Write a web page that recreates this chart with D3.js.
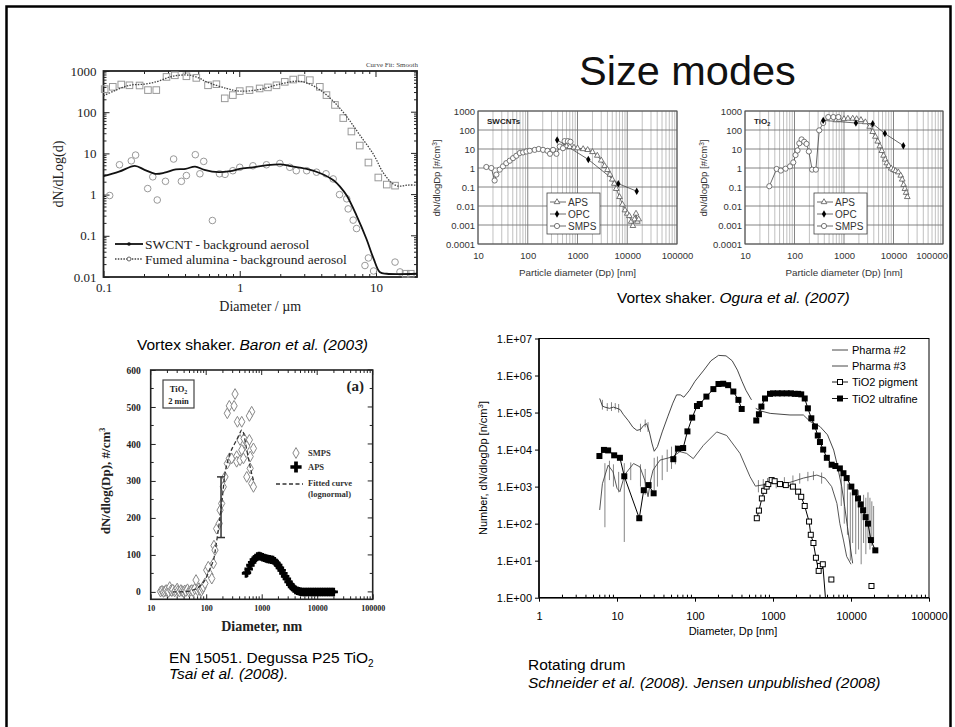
<!DOCTYPE html>
<html><head><meta charset="utf-8">
<script src="https://cdn.jsdelivr.net/npm/d3@7"></script>
<style>body{margin:0;background:#fff}svg{display:block}</style>
</head><body><svg id="c" width="955" height="727"></svg>
<script>
// ================= DATA =================
const slideTitle = "Size modes";

// Panel A : Baron et al. (2003)
const baronXTicks = [0.1, 1, 10];
const baronXLabels = ["0.1", "1", "10"];
const baronYTicks = [0.01, 0.1, 1, 10, 100, 1000];
const baronYLabels = ["0.01", "0.1", "1", "10", "100", "1000"];
const baronSeries = ["SWCNT - background aerosol", "Fumed alumina - background aerosol"];
const baronSwcntCurve = [[0.1,2.8],[0.13,3.6],[0.17,5.0],[0.2,4.0],[0.24,3.2],[0.28,3.4],[0.34,4.1],[0.4,4.2],[0.47,4.8],[0.55,4.0],[0.7,3.5],[0.85,3.7],[1.0,4.2],[1.25,4.6],[1.6,5.2],[2.0,5.4],[2.3,5.0],[3.1,4.2],[3.9,3.3],[4.9,2.2],[5.5,1.5],[6.1,0.95],[7.2,0.31],[8.5,0.085],[9.6,0.028],[10.7,0.013],[12,0.012],[20,0.012]];
const baronAluminaCurve = [[0.1,250],[0.12,330],[0.155,450],[0.2,480],[0.25,560],[0.3,700],[0.35,780],[0.43,790],[0.5,680],[0.57,545],[0.8,377],[1.0,325],[1.4,356],[1.97,480],[2.6,565],[3.1,515],[3.9,344],[4.9,180],[6.1,78],[7.6,28],[9.6,9.4],[11.3,3.4],[13.4,1.8],[15,1.6],[17,1.7],[20,1.7]];
const baronSwcntPts = [[0.111,0.95],[0.131,5.3],[0.16,6.6],[0.172,9.1],[0.211,1.4],[0.23,2.7],[0.248,0.74],[0.285,2.1],[0.327,7.3],[0.373,2.1],[0.406,2.9],[0.472,9.3],[0.51,3.2],[0.544,6.4],[0.63,0.235],[0.71,3.2],[0.78,3.1],[0.89,3.8],[1.0,4.6],[1.25,5.0],[1.57,5.3],[1.97,5.7],[2.33,4.6],[2.6,3.8],[3.1,3.8],[3.66,3.5],[4.3,3.2],[4.85,2.4],[5.4,1.0],[6.1,0.79],[6.25,0.45],[6.8,0.24],[7.2,0.15],[8.8,0.029],[8.3,0.019],[9.6,0.014],[13.8,0.023],[15,0.0133]];
const baronAluminaPts = [[0.102,363],[0.117,413],[0.135,470],[0.155,450],[0.184,445],[0.212,344],[0.244,344],[0.29,718],[0.334,787],[0.406,745],[0.48,680],[0.585,450],[0.674,478],[0.776,217],[0.89,260],[1.0,325],[1.18,344],[1.4,377],[1.61,400],[1.86,450],[2.14,545],[2.47,620],[2.84,655],[3.27,600],[3.87,413],[4.33,260],[5.0,150],[5.75,72],[6.6,34],[7.6,15.5],[8.8,6.0],[10.4,2.6],[12,1.75],[13.8,1.65],[16.5,0.012],[18,0.012]];

// Panels B/C : Ogura et al. (2007)
const oguraXTicks = [10, 100, 1000, 10000, 100000];
const oguraXLabels = ["10", "100", "1000", "10000", "100000"];
const oguraYTicks = [0.0001, 0.001, 0.01, 0.1, 1, 10, 100, 1000];
const oguraYLabels = ["0.0001", "0.001", "0.01", "0.1", "1", "10", "100", "1000"];
const oguraSeries = ["APS", "OPC", "SMPS"];
const ogSwSmps = [[14.7,1.13],[18.5,1.0],[21.6,0.22],[23.4,0.45],[27.3,0.82],[31.8,1.22],[37,1.8],[43.4,2.4],[50.6,3.3],[59,4.4],[69,6.1],[80.6,6.6],[94,7.4],[110,8.0],[138,9.0],[166,10],[203,9.0],[249,8.0],[280,5.6],[323,9],[377,5.6],[440,13.5],[510,11],[550,26],[640,26],[720,24]];
const ogSwOpc = [[390,30],[1650,2.8],[6600,0.15],[15500,0.06]];
const ogSwAps = [[600,14],[700,13],[850,12],[1000,11],[1300,10],[1600,9],[2000,7],[2500,4.5],[3000,2.5],[3500,1.3],[4000,0.8],[4500,0.45],[5000,0.25],[5500,0.15],[6000,0.08],[7000,0.03],[8000,0.012],[9000,0.006],[10000,0.004],[11000,0.003],[12000,0.0015],[13000,0.0009],[14000,0.002],[15000,0.004],[16000,0.0015],[17000,0.002]];
const ogTiSmps = [[31,0.11],[43.6,0.89],[53,0.73],[66,0.92],[81,1.22],[94.5,1.97],[105,4.8],[115,8.4],[125,20],[139,32],[157,24],[175,18.6],[195,7.4],[227,0.82],[270,0.82],[316,96],[380,234],[480,480],[610,480],[770,480]];
const ogTiOpc = [[380,320],[1740,234],[3800,215],[6700,65],[15800,15]];
const ogTiAps = [[700,330],[800,350],[1000,380],[1200,400],[1500,400],[1800,380],[2200,340],[2700,260],[3300,150],[3800,80],[4300,45],[4800,25],[5300,14],[5800,8],[6300,4.5],[6800,2.8],[7300,1.8],[8000,1.3],[9000,0.95],[10000,0.8],[11000,0.7],[12500,0.6],[14000,0.4],[15000,0.25],[16000,0.13],[17000,0.08],[18000,0.05],[19000,0.03]];

// Panel D : Tsai et al. (2008)
const tsaiXTicks = [10, 100, 1000, 10000, 100000];
const tsaiXLabels = ["10", "100", "1000", "10000", "100000"];
const tsaiYTicks = [0, 100, 200, 300, 400, 500, 600];
const tsaiYLabels = ["0", "100", "200", "300", "400", "500", "600"];
const tsaiSeries = ["SMPS", "APS", "Fitted curve", "(lognormal)"];
const tsaiSmps = [[15,1],[16,3],[17,0],[18,2],[19,5],[20,1],[21,0],[22,13],[23,4],[24,2],[25,6],[27,1],[28,4],[30,9],[31,3],[33,1],[35,5],[37,2],[39,0],[41,4],[43,2],[46,7],[49,1],[52,3],[55,5],[58,2],[62,8],[65.6,32],[70,4],[74,10],[77,5],[82,3],[86,9],[89,14],[95,23],
 [102,59],[109,68],[117,47],[126,36],[135,77],[138,125],[144,113],[154,171],[172,185],[178,221],[190,239],[203,284],[218,311],[240,347],[261,361],[288,361],[354,367],[354,352],[407,356],[437,384],[469,361],
 [240,483],[261,503],[318,503],[331,535],[365,460],[437,460],[407,411],[480,415],[660,487],[600,476],[600,411],[538,394],[710,388],[620,366],[538,311],[660,293],[710,284],[620,334]];
const tsaiAps = [[523,50],[542,52],[583,62],[626,72],[673,80],[723,87],[777,92],[835,96],[898,97],[965,96],[1037,94],[1114,92],[1197,90],[1286,89],[1382,88],[1486,87],[1596,86],[1715,83],[1843,78],[1981,72],[2129,65],[2288,58],[2458,50],[2642,42],[2839,35],[3051,27],[3278,20],[3523,14],[3786,9],[4068,5],[4371,3],[4698,1.5],[5048,0.5],[5425,0],[5829,0],[6264,0],[6732,0],[7234,0],[7774,0],[8354,0],[8977,0],[9647,0],[10370,0],[11140,0],[11970,0],[12870,0],[13830,0],[14860,0],[15960,0],[17150,0],[18430,0],[19810,0]];
const tsaiFit = [[25,0],[50,2],[67,9],[80,18],[95,32],[115,60],[135,86],[150,125],[165,167],[178,205],[190,239],[205,285],[218,320],[240,350],[269,375],[310,395],[354,411],[400,428],[437,438],[470,430],[500,410],[538,384],[580,360],[620,338],[660,320],[710,302]];
const tsaiErrBar = [[185,147,311]];

// Panel E : Schneider et al. (2008) / Jensen
const drumXTicks = [1, 10, 100, 1000, 10000, 100000];
const drumXLabels = ["1", "10", "100", "1000", "10000", "100000"];
const drumYTicks = [1, 10, 100, 1000, 10000, 100000, 1000000, 10000000];
const drumYLabels = ["1.E+00", "1.E+01", "1.E+02", "1.E+03", "1.E+04", "1.E+05", "1.E+06", "1.E+07"];
const drumSeries = ["Pharma #2", "Pharma #3", "TiO2 pigment", "TiO2 ultrafine"];
const pharma2a = [[6,2.4e5],[6.5,1.5e5],[7,1.4e5],[8,1.3e5],[9,1.4e5],[10,1.3e5],[11,1.2e5],[12,9e4],[14,6e4],[16,4e4],[18,3.3e4],[20,3.5e4],[22,4.5e4],[24,5e4],[26,3e4],[28,1.5e4],[30,9e3],[33,1.2e4],[38,3e4],[45,8e4],[52,1.8e5],[58,3e5],[65,3e5],[72,2.6e5],[85,4e5],[100,7e5],[130,1.4e6],[160,2.5e6],[200,3.5e6],[250,3.4e6],[300,2.5e6],[350,1.4e6],[400,7e5],[450,4e5],[530,2.2e5]];
const pharma2b = [[600,1.3e5],[700,1.1e5],[920,9.5e4],[1650,8.6e4],[2450,8.6e4],[3000,5.7e4],[4000,4.2e4],[5000,2.5e4],[6000,9.7e3],[6600,4.2e3],[7600,1e3],[8300,290],[9000,83],[10500,8.5]];
const pharma3 = [[6,234],[6.5,1200],[7.7,3800],[8.9,2500],[10,900],[10.9,730],[12,1500],[13,2300],[16.3,4200],[19.7,3400],[22.7,1500],[25,535],[27,1500],[29,2800],[35.6,5200],[52,6400],[64,8800],[78,7900],[95,5700],[128,1.3e4],[190,3e4],[255,2.4e4],[377,7900],[508,1850],[595,1030],[920,1200],[1650,1300],[2450,1700],[3650,2050],[4650,1700],[5650,1000],[6600,350],[7200,100],[8000,36],[8800,13],[10000,8]];
const drumSpikes = [[6.5,1.2e5,2.2e5],[7.5,1.1e5,1.8e5],[8.5,1.1e5,1.9e5],[9.5,1.2e5,1.8e5],[10.5,1e5,1.7e5],[20,3e4,5e4],[23,4e4,6.5e4],[25,3e4,5.5e4],
 [7.0,80,4300],[8,1500,5000],[9,1000,4000],[10.5,700,2500],[12.4,32,4300],[15,1500,4500],[20,1000,4000],[23,600,3000],[30,800,6000],[33,1000,6500],[38,1500,7000],[44,2500,1e4],[50,3000,1.2e4],[56,4000,1.3e4],
 [650,700,1500],[750,800,1600],[850,900,1700],[1100,900,1600],[1400,1000,1800],[1800,1100,2000],[2200,1200,2300],[2800,1400,2500],[3300,1500,2600],[4200,1200,2400],
 [7500,300,2000],[8200,100,1500],[9000,50,1200],[9800,10,700],[10500,30,900],[11500,15,600],[12500,20,800],[13500,8,400],[14500,30,600],[15500,15,500],[16500,40,700],[17500,20,500],[18500,25,400],[19500,30,300]];
const ultraA = [[5.95,6.7e3],[6.8,9.8e3],[7.7,9.5e3],[9.2,7e3],[10.9,6e3],[12.4,1.9e3],[19.3,140],[22,800],[25.4,1.1e3],[29.5,660]];
const ultraB = [[52.7,5.5e3],[60.7,1.06e4],[70.5,1.1e4],[80,3.1e4],[92,7.3e4],[106,1.5e5],[115,1.7e5],[140,2.7e5],[172,4.3e5],[200,5.9e5],[230,6e5],[266,5.5e5],[310,3.7e5],[360,2.2e5],[397,1.25e5]];
const ultraC = [[610,6.1e4],[660,9e4],[710,1.45e5],[790,2.4e5],[915,3.2e5],[1000,3.3e5],[1150,3.3e5],[1300,3.3e5],[1500,3.3e5],[1700,3.3e5],[1900,3.2e5],[2100,3.2e5],[2300,3.1e5],[2550,2.4e5],[2800,1.3e5],[3100,7e4],[3450,4.2e4],[3750,2.4e4],[4000,1.6e4],[4400,1e4],[4900,6e3],[5650,3.9e3],[6300,3.6e3],[7200,3.1e3],[8000,2.3e3],[8800,1.7e3],[10100,1e3],[11200,700],[12300,480],[13300,330],[14300,230],[15400,150],[16500,100],[18000,36],[20500,19]];
const pigment = [[620,140],[660,225],[720,480],[770,770],[830,1e3],[870,1.17e3],[960,1.5e3],[1050,1.4e3],[1230,1.17e3],[1460,1.1e3],[1800,1e3],[2100,730],[2300,530],[2550,300],[2900,114],[3050,50],[3300,30],[3550,12],[3850,5.3],[4000,7.2],[4350,8]];
const pigmentTail = [[4350,8],[4700,1]];
const pigmentLoose = [[5600,3.1],[18300,2.07]];

// Captions
const capBaron = ["Vortex shaker. ", "Baron et al. (2003)"];
const capOgura = ["Vortex shaker. ", "Ogura et al. (2007)"];
const capTsai = ["EN 15051. Degussa P25 TiO", "2", "Tsai et al. (2008)."];
const capDrum = ["Rotating drum", "Schneider et al. (2008). Jensen unpublished (2008)"];

// ================= DRAW =================
const SANS = "'Liberation Sans',Arial,Helvetica,sans-serif";
const SERIF = "'Liberation Serif','Times New Roman',Times,serif";
const svg = d3.select('#c');
svg.append('rect').attr('width',955).attr('height',727).attr('fill','#fff');

function txt(g,x,y,s,o={}){
  const t=g.append('text').attr('x',x).attr('y',y).attr('font-family',o.ff||SANS).attr('font-size',o.fs||12).attr('fill',o.fill||'#000');
  if(o.anchor)t.attr('text-anchor',o.anchor);
  if(o.fw)t.attr('font-weight',o.fw);
  if(o.fst)t.attr('font-style',o.fst);
  if(o.rot)t.attr('transform',`rotate(${o.rot},${x},${y})`);
  t.text(s); return t;
}
const isDec = d => Math.abs(Math.log10(d)-Math.round(Math.log10(d)))<1e-6;
function vTicks(g,sc,vals,y0,len,col,w){g.selectAll(null).data(vals).join('line').attr('x1',d=>sc(d)).attr('x2',d=>sc(d)).attr('y1',y0).attr('y2',y0+len).attr('stroke',col).attr('stroke-width',w);}
function hTicks(g,sc,vals,x0,len,col,w){g.selectAll(null).data(vals).join('line').attr('y1',d=>sc(d)).attr('y2',d=>sc(d)).attr('x1',x0).attr('x2',x0+len).attr('stroke',col).attr('stroke-width',w);}
function styleAxis(g,ff,fs,fw,col){g.select('.domain').remove();g.selectAll('text').attr('font-family',ff).attr('font-size',fs).attr('fill',col||'#000');if(fw)g.selectAll('text').attr('font-weight',fw);g.selectAll('line').attr('stroke',col||'#000');}

svg.append('text').attr('x',579).attr('y',85).attr('font-family',SANS).attr('font-size',41.5).attr('fill','#111').text(slideTitle);

// ---------- Panel A ----------
{
  const g=svg.append('g');
  const L=103.5,R=417,T=71,B=277;
  const x=d3.scaleLog().domain([0.1,20]).range([L,R]);
  const y=d3.scaleLog().domain([0.01,1000]).range([B,T]);
  const xMin=x.ticks().filter(d=>!isDec(d)), yMin=y.ticks().filter(d=>!isDec(d));
  g.append('rect').attr('x',L).attr('y',T).attr('width',R-L).attr('height',B-T).attr('fill','none').attr('stroke','#222').attr('stroke-width',1.8);
  const ya=g.append('g').attr('transform',`translate(${L},0)`).call(d3.axisLeft(y).tickValues(baronYTicks).tickFormat((d,i)=>baronYLabels[i]).tickSize(-6).tickPadding(7));
  styleAxis(ya,SERIF,13,null,'#222');
  const xa=g.append('g').attr('transform',`translate(0,${B})`).call(d3.axisBottom(x).tickValues(baronXTicks).tickFormat((d,i)=>baronXLabels[i]).tickSize(-6).tickPadding(6));
  styleAxis(xa,SERIF,13,null,'#222');
  vTicks(g,x,xMin,B,-3,'#222',1); vTicks(g,x,baronXTicks,T,6,'#222',1); vTicks(g,x,xMin,T,3,'#222',1);
  hTicks(g,y,yMin,L,3,'#222',1); hTicks(g,y,baronYTicks,R,-6,'#222',1); hTicks(g,y,yMin,R,-3,'#222',1);
  txt(g,(L+R)/2,311,"Diameter / µm",{ff:SERIF,fs:14,anchor:'middle',fill:'#222'});
  txt(g,63,174,"dN/dLog(d)",{ff:SERIF,fs:14,anchor:'middle',rot:-90,fill:'#222'});
  txt(g,R+1,67,"Curve Fit: Smooth",{ff:SERIF,fs:7,anchor:'end',fill:'#444'});
  g.selectAll(null).data(baronSwcntPts).join('circle').attr('cx',d=>x(d[0])).attr('cy',d=>y(d[1])).attr('r',3.3).attr('fill','none').attr('stroke','#999').attr('stroke-width',1);
  g.selectAll(null).data(baronAluminaPts).join('rect').attr('x',d=>x(d[0])-3.3).attr('y',d=>y(d[1])-3.3).attr('width',6.6).attr('height',6.6).attr('fill','none').attr('stroke','#999').attr('stroke-width',1);
  const ln=d3.line().x(d=>x(d[0])).y(d=>y(d[1])).curve(d3.curveCatmullRom.alpha(0.5));
  g.append('path').datum(baronAluminaCurve).attr('d',ln).attr('fill','none').attr('stroke','#444').attr('stroke-width',1.3).attr('stroke-dasharray','1.5,1.3');
  g.append('path').datum(baronSwcntCurve).attr('d',ln).attr('fill','none').attr('stroke','#111').attr('stroke-width',1.8);
  g.append('line').attr('x1',115).attr('x2',143).attr('y1',244).attr('y2',244).attr('stroke','#111').attr('stroke-width',1.8);
  g.append('circle').attr('cx',129).attr('cy',244).attr('r',1.8).attr('fill','#111');
  g.append('line').attr('x1',115).attr('x2',143).attr('y1',259).attr('y2',259).attr('stroke','#444').attr('stroke-width',1.3).attr('stroke-dasharray','1.5,1.3');
  g.append('circle').attr('cx',129).attr('cy',259).attr('r',2).attr('fill','#fff').attr('stroke','#666');
  txt(g,145,249,baronSeries[0],{ff:SERIF,fs:13.5,fill:'#222'});
  txt(g,145,264,baronSeries[1],{ff:SERIF,fs:13.5,fill:'#222'});
}

// ---------- Panels B, C ----------
function ogura(L,R,tag,smps,opc,aps,isTi){
  const g=svg.append('g');
  const T=111,B=244;
  const x=d3.scaleLog().domain([10,100000]).range([L,R]);
  const y=d3.scaleLog().domain([0.0001,1000]).range([B,T]);
  const xMin=x.ticks().filter(d=>!isDec(d));
  g.selectAll(null).data(xMin).join('line').attr('x1',d=>x(d)).attr('x2',d=>x(d)).attr('y1',T).attr('y2',B).attr('stroke','#b0b0b0').attr('stroke-width',0.8);
  g.selectAll(null).data(oguraXTicks).join('line').attr('x1',d=>x(d)).attr('x2',d=>x(d)).attr('y1',T).attr('y2',B).attr('stroke','#777').attr('stroke-width',0.9);
  g.selectAll(null).data(oguraYTicks).join('line').attr('y1',d=>y(d)).attr('y2',d=>y(d)).attr('x1',L).attr('x2',R).attr('stroke','#777').attr('stroke-width',0.9);
  g.append('rect').attr('x',L).attr('y',T).attr('width',R-L).attr('height',B-T).attr('fill','none').attr('stroke','#555').attr('stroke-width',1);
  const ya=g.append('g').attr('transform',`translate(${L},0)`).call(d3.axisLeft(y).tickValues(oguraYTicks).tickFormat((d,i)=>oguraYLabels[i]).tickSize(0).tickPadding(3));
  styleAxis(ya,SANS,9.5,null,'#333');
  const xa=g.append('g').attr('transform',`translate(0,${B})`).call(d3.axisBottom(x).tickValues(oguraXTicks).tickFormat((d,i)=>oguraXLabels[i]).tickSize(0).tickPadding(8));
  styleAxis(xa,SANS,9.5,null,'#333');
  // keep the last label inside the slide frame
  xa.selectAll('.tick text').each(function(){
    const bb=this.getBBox(), p=this.parentNode.transform.baseVal.consolidate().matrix.e;
    if(p+bb.x+bb.width>948){d3.select(this).attr('text-anchor','end').attr('x',948-p);}
  });
  txt(g,(L+R)/2,276,"Particle diameter (Dp) [nm]",{fs:9.8,anchor:'middle',fill:'#333'});
  const yt=txt(g,L-38,178,"",{fs:9.5,anchor:'middle',rot:-90,fill:'#333'});
  yt.append('tspan').text('dN/dlogDp [#/cm');yt.append('tspan').attr('font-size',6.5).attr('dy',-3).text('3');yt.append('tspan').attr('dy',3).text(']');
  const tg=txt(g,L+9,124,"",{fs:8,fw:'bold',fill:'#222'});
  if(isTi){tg.append('tspan').text('TiO');tg.append('tspan').attr('font-size',5.5).attr('dy',2).text('2');}
  else tg.text(tag);
  const ln=d3.line().x(d=>x(d[0])).y(d=>y(d[1]));
  [aps,opc,smps].forEach(s=>g.append('path').datum(s).attr('d',ln).attr('fill','none').attr('stroke','#444').attr('stroke-width',0.8));
  const tri=d3.symbol().type(d3.symbolTriangle).size(14);
  g.selectAll(null).data(aps).join('path').attr('d',tri).attr('transform',d=>`translate(${x(d[0])},${y(d[1])})`).attr('fill','#fff').attr('stroke','#555').attr('stroke-width',0.8);
  g.selectAll(null).data(smps).join('circle').attr('cx',d=>x(d[0])).attr('cy',d=>y(d[1])).attr('r',2.6).attr('fill','#fff').attr('stroke','#555').attr('stroke-width',0.8);
  const dia=d3.symbol().type(d3.symbolDiamond).size(16);
  g.selectAll(null).data(opc).join('path').attr('d',dia).attr('transform',d=>`translate(${x(d[0])},${y(d[1])})`).attr('fill','#000');
  const bx=L+69, by=193;
  g.append('rect').attr('x',bx).attr('y',by).attr('width',53).attr('height',41).attr('fill','#fff').attr('stroke','#444').attr('stroke-width',0.8);
  const ly=[by+9,by+21,by+33];
  ly.forEach(v=>g.append('line').attr('x1',bx+3).attr('x2',bx+19).attr('y1',v).attr('y2',v).attr('stroke','#444').attr('stroke-width',0.8));
  g.append('path').attr('d',tri).attr('transform',`translate(${bx+10},${ly[0]})`).attr('fill','#fff').attr('stroke','#555').attr('stroke-width',0.8);
  g.append('path').attr('d',dia).attr('transform',`translate(${bx+10},${ly[1]})`).attr('fill','#000');
  g.append('circle').attr('cx',bx+10).attr('cy',ly[2]).attr('r',2.6).attr('fill','#fff').attr('stroke','#555').attr('stroke-width',0.8);
  oguraSeries.forEach((s,i)=>txt(g,bx+21,ly[i]+3.5,s,{fs:10,fill:'#333'}));
}
ogura(478,677,"SWCNTs",ogSwSmps,ogSwOpc,ogSwAps,false);
ogura(745,943,"TiO2",ogTiSmps,ogTiOpc,ogTiAps,true);

// ---------- Panel D ----------
{
  const g=svg.append('g');
  const L=150.7,R=372.7,T=370,B=599.3;
  const x=d3.scaleLog().domain([10,100000]).range([L,R]);
  const y=d3.scaleLinear().domain([-20,600]).range([B,T]);
  const xMin=x.ticks().filter(d=>!isDec(d));
  const yMin=d3.range(50,600,100);
  g.append('rect').attr('x',L).attr('y',T).attr('width',R-L).attr('height',B-T).attr('fill','none').attr('stroke','#222').attr('stroke-width',1.6);
  const ya=g.append('g').attr('transform',`translate(${L},0)`).call(d3.axisLeft(y).tickValues(tsaiYTicks).tickFormat((d,i)=>tsaiYLabels[i]).tickSize(-5).tickPadding(10));
  styleAxis(ya,SERIF,9.5,'bold','#222');
  const xa=g.append('g').attr('transform',`translate(0,${B})`).call(d3.axisBottom(x).tickValues(tsaiXTicks).tickFormat((d,i)=>tsaiXLabels[i]).tickSize(-5).tickPadding(6));
  styleAxis(xa,SERIF,8,'bold','#222');
  hTicks(g,y,yMin,L,3,'#222',1); hTicks(g,y,tsaiYTicks,R,-5,'#222',1); hTicks(g,y,yMin,R,-3,'#222',1);
  vTicks(g,x,xMin,B,-3,'#222',1); vTicks(g,x,tsaiXTicks,T,5,'#222',1); vTicks(g,x,xMin,T,3,'#222',1);
  txt(g,(L+R)/2,631,"Diameter, nm",{ff:SERIF,fs:14,fw:'bold',anchor:'middle',fill:'#222'});
  const yt=txt(g,110,481,"",{ff:SERIF,fs:13,fw:'bold',anchor:'middle',rot:-90,fill:'#222'});
  yt.append('tspan').text('dN/dlog(Dp), #/cm');yt.append('tspan').attr('font-size',8).attr('dy',-5).text('3');
  g.append('rect').attr('x',163).attr('y',380).attr('width',31).attr('height',28).attr('fill','none').attr('stroke','#444').attr('stroke-width',1.2);
  const tl=txt(g,178.5,392,"",{ff:SERIF,fs:8.5,fw:'bold',anchor:'middle',fill:'#222'});
  tl.append('tspan').text('TiO');tl.append('tspan').attr('font-size',6).attr('dy',2).text('2');
  txt(g,178.5,404,"2 min",{ff:SERIF,fs:8.5,fw:'bold',anchor:'middle',fill:'#222'});
  txt(g,364,391,"(a)",{ff:SERIF,fs:15,fw:'bold',anchor:'end',fill:'#222'});
  const dia=d3.symbol().type(d3.symbolDiamond).size(34);
  g.selectAll(null).data(tsaiSmps).join('path').attr('d',dia).attr('transform',d=>`translate(${x(d[0])},${y(d[1])})`).attr('fill','#fff').attr('stroke','#888').attr('stroke-width',1);
  const ln=d3.line().x(d=>x(d[0])).y(d=>y(d[1])).curve(d3.curveCatmullRom.alpha(0.5));
  g.append('path').datum(tsaiFit).attr('d',ln).attr('fill','none').attr('stroke','#333').attr('stroke-width',1.3).attr('stroke-dasharray','4,2.5');
  tsaiErrBar.forEach(e=>{
    const cx=x(e[0]);
    g.append('line').attr('x1',cx).attr('x2',cx).attr('y1',y(e[1])).attr('y2',y(e[2])).attr('stroke','#333').attr('stroke-width',1.5);
    [e[1],e[2]].forEach(v=>g.append('line').attr('x1',cx-4).attr('x2',cx+4).attr('y1',y(v)).attr('y2',y(v)).attr('stroke','#333').attr('stroke-width',1.5));
  });
  const cross=d3.symbol().type(d3.symbolCross).size(40);
  g.selectAll(null).data(tsaiAps).join('path').attr('d',cross).attr('transform',d=>`translate(${x(d[0])},${y(d[1])})`).attr('fill','#000');
  g.append('path').attr('d',dia).attr('transform','translate(296,453)').attr('fill','#fff').attr('stroke','#888').attr('stroke-width',1);
  g.append('path').attr('d',d3.symbol().type(d3.symbolCross).size(70)).attr('transform','translate(296,467)').attr('fill','#000');
  g.append('line').attr('x1',276).attr('x2',303).attr('y1',484).attr('y2',484).attr('stroke','#333').attr('stroke-width',1.3).attr('stroke-dasharray','4,2.5');
  txt(g,308,456,tsaiSeries[0],{ff:SERIF,fs:8.5,fw:'bold',fill:'#333'});
  txt(g,308,470,tsaiSeries[1],{ff:SERIF,fs:8.5,fw:'bold',fill:'#333'});
  txt(g,308,486,tsaiSeries[2],{ff:SERIF,fs:8.5,fw:'bold',fill:'#333'});
  txt(g,308,497,tsaiSeries[3],{ff:SERIF,fs:8.5,fw:'bold',fill:'#333'});
}

// ---------- Panel E ----------
{
  const g=svg.append('g');
  const L=539,R=929,T=338.5,B=597.7;
  const x=d3.scaleLog().domain([1,100000]).range([L,R]);
  const y=d3.scaleLog().domain([1,10000000]).range([B,T]);
  const xMin=x.ticks().filter(d=>!isDec(d));
  g.append('rect').attr('x',L).attr('y',T).attr('width',R-L).attr('height',B-T).attr('fill','none').attr('stroke','#000').attr('stroke-width',1);
  const ya=g.append('g').attr('transform',`translate(${L},0)`).call(d3.axisLeft(y).tickValues(drumYTicks).tickFormat((d,i)=>drumYLabels[i]).tickSize(4).tickPadding(3));
  styleAxis(ya,SANS,11,null,'#000');
  const xa=g.append('g').attr('transform',`translate(0,${B})`).call(d3.axisBottom(x).tickValues(drumXTicks).tickFormat((d,i)=>drumXLabels[i]).tickSize(4).tickPadding(11));
  styleAxis(xa,SANS,11,null,'#000');
  g.append('line').attr('x1',L).attr('x2',R).attr('y1',B).attr('y2',B).attr('stroke','#000').attr('stroke-width',1.5);
  g.append('line').attr('x1',L).attr('x2',L).attr('y1',T).attr('y2',B).attr('stroke','#000').attr('stroke-width',1.5);
  vTicks(g,x,xMin,B,-3,'#000',1);
  txt(g,(L+R)/2-1,635,"Diameter, Dp [nm]",{fs:11,anchor:'middle'});
  const yt=txt(g,487,468,"",{fs:11,anchor:'middle',rot:-90});
  yt.append('tspan').text('Number, dN/dlogDp  [n/cm');yt.append('tspan').attr('font-size',8).attr('dy',-4).text('3');yt.append('tspan').attr('dy',4).text(']');
  const ln=d3.line().x(d=>x(d[0])).y(d=>y(d[1]));
  g.selectAll(null).data(drumSpikes).join('line').attr('x1',d=>x(d[0])).attr('x2',d=>x(d[0])).attr('y1',d=>y(d[1])).attr('y2',d=>y(d[2])).attr('stroke','#666').attr('stroke-width',0.8);
  [pharma2a,pharma2b].forEach(s=>g.append('path').datum(s).attr('d',ln).attr('fill','none').attr('stroke','#333').attr('stroke-width',0.9));
  g.append('path').datum(pharma3).attr('d',ln).attr('fill','none').attr('stroke','#444').attr('stroke-width',0.9);
  [ultraA,ultraB,ultraC].forEach(s=>g.append('path').datum(s).attr('d',ln).attr('fill','none').attr('stroke','#000').attr('stroke-width',1));
  [pigment,pigmentTail].forEach(s=>g.append('path').datum(s).attr('d',ln).attr('fill','none').attr('stroke','#000').attr('stroke-width',1));
  const S=6;
  [...ultraA,...ultraB,...ultraC].forEach(d=>g.append('rect').attr('x',x(d[0])-S/2).attr('y',y(d[1])-S/2).attr('width',S).attr('height',S).attr('fill','#000'));
  [...pigment,...pigmentLoose].forEach(d=>g.append('rect').attr('x',x(d[0])-S/2+0.5).attr('y',y(d[1])-S/2+0.5).attr('width',S-1).attr('height',S-1).attr('fill','#fff').attr('stroke','#000').attr('stroke-width',1));
  const lx=832, lys=[350,366,382,398.5];
  lys.forEach((v,i)=>{
    g.append('line').attr('x1',lx).attr('x2',lx+16).attr('y1',v).attr('y2',v).attr('stroke',i<2?'#333':'#000').attr('stroke-width',0.9);
    txt(g,lx+20,v+4,drumSeries[i],{fs:11});
  });
  g.append('rect').attr('x',lx+8-2.5).attr('y',lys[2]-2.5).attr('width',5).attr('height',5).attr('fill','#fff').attr('stroke','#000');
  g.append('rect').attr('x',lx+8-3).attr('y',lys[3]-3).attr('width',6).attr('height',6).attr('fill','#000');
}

// ---------- Captions ----------
{
  const c1=txt(svg,137,350,"",{fs:15.5});
  c1.append('tspan').text(capBaron[0]);c1.append('tspan').attr('font-style','italic').text(capBaron[1]);
  const c2=txt(svg,617,303,"",{fs:15.5});
  c2.append('tspan').text(capOgura[0]);c2.append('tspan').attr('font-style','italic').text(capOgura[1]);
  const c3=txt(svg,169,663,"",{fs:15.5});
  c3.append('tspan').text(capTsai[0]);c3.append('tspan').attr('font-size',10).attr('dy',4).text(capTsai[1]);
  txt(svg,169,679,capTsai[2],{fs:15.5,fst:'italic'});
  txt(svg,528,670,capDrum[0],{fs:15.5});
  txt(svg,528,688,capDrum[1],{fs:15.5,fst:'italic'});
}

svg.append('path').attr('d','M6.5,727V6.5H950.5V727').attr('fill','none').attr('stroke','#000').attr('stroke-width',2.5);
</script></body></html>
